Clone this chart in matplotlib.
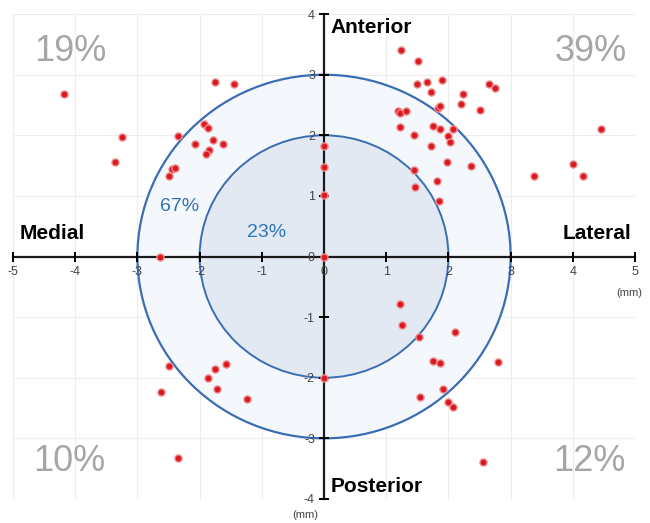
import numpy as np
import matplotlib.pyplot as plt
from matplotlib.patches import Circle

plt.rcParams['font.family'] = ['Liberation Sans', 'DejaVu Sans']
plt.rcParams['axes.unicode_minus'] = False

# 各点位置 (mm)
x_ul = [-4.18, -3.25, -3.36, -2.35, -2.45, -2.40, -2.49, -1.75, -1.44, -1.93, -1.87,
        -2.07, -1.78, -1.63, -1.85, -1.89, -2.63]
y_ul = [2.68, 1.97, 1.56, 1.99, 1.45, 1.46, 1.33, 2.88, 2.85, 2.18, 2.12,
        1.86, 1.93, 1.86, 1.76, 1.69, 0.0]

x_axis = [0, 0, 0, 0, 0]
y_axis = [1.82, 1.48, 1.02, 0.0, -2.0]

x_ur = [1.24, 1.51, 1.49, 1.66, 1.90, 1.72, 2.65, 2.75, 2.23, 2.20, 2.50, 1.19, 1.22,
        1.32, 1.83, 1.87, 1.22, 1.75, 1.86, 2.07, 1.44, 2.00, 2.03, 1.72, 2.37, 1.98,
        1.44, 1.82, 1.47, 1.85, 3.37, 4.00, 4.17, 4.46]
y_ur = [3.40, 3.23, 2.85, 2.88, 2.92, 2.72, 2.85, 2.78, 2.68, 2.52, 2.41, 2.40, 2.37,
        2.40, 2.45, 2.48, 2.13, 2.15, 2.11, 2.10, 2.00, 1.99, 1.89, 1.82, 1.50, 1.56,
        1.42, 1.24, 1.14, 0.92, 1.33, 1.53, 1.33, 2.11]

x_ll = [-2.49, -1.76, -1.57, -1.87, -1.72, -1.24, -2.62, -2.35]
y_ll = [-1.80, -1.85, -1.78, -2.00, -2.19, -2.35, -2.24, -3.33]

x_lr = [1.22, 1.26, 1.52, 2.11, 1.75, 1.86, 2.79, 1.92, 1.54, 1.99, 2.08, 2.56]
y_lr = [-0.79, -1.13, -1.33, -1.25, -1.72, -1.76, -1.74, -2.18, -2.32, -2.40, -2.48, -3.39]

quad_pct = ['19%', '39%', '10%', '12%']
zone_pct = ['67%', '23%']
radii = [3, 2]

fig = plt.figure(figsize=(6.5, 5.23), dpi=100)
ax = fig.add_axes([0.02, 0.046, 0.957, 0.927])
ax.set_xlim(-5, 5)
ax.set_ylim(-4, 4)

# 网格
for g in range(-5, 6):
    ax.plot([g, g], [-4, 4], color='#EDEDED', lw=0.8, zorder=0)
for g in range(-4, 5):
    ax.plot([-5, 5], [g, g], color='#EDEDED', lw=0.8, zorder=0)

# 圆
ax.add_patch(Circle((0, 0), radii[0], facecolor='#F4F7FB', edgecolor='#3A6DB3', lw=1.6, zorder=1))
ax.add_patch(Circle((0, 0), radii[1], facecolor='#E2E9F3', edgecolor='#3A6DB3', lw=1.4, zorder=2))

# 坐标轴居中
ax.spines['left'].set_position(('data', 0))
ax.spines['bottom'].set_position(('data', 0))
ax.spines['right'].set_visible(False)
ax.spines['top'].set_visible(False)
for s in ['left', 'bottom']:
    ax.spines[s].set_linewidth(1.6)
    ax.spines[s].set_color('#1a1a1a')
    ax.spines[s].set_zorder(3)
ax.xaxis.set_zorder(4)
ax.yaxis.set_zorder(4)
ax.set_xticks(range(-5, 6))
ax.set_yticks(range(-4, 5))
ax.tick_params(direction='inout', length=7, width=1.4, labelsize=9, labelcolor='#444444', pad=3)

xs = x_ul + x_axis + x_ur + x_ll + x_lr
ys = y_ul + y_axis + y_ur + y_ll + y_lr
ax.scatter(xs, ys, s=26, color='#DA1A22', edgecolor='#EE8A8A', linewidth=1.0, zorder=5, clip_on=False)

# 文字
ax.text(-4.9, 0.38, 'Medial', fontsize=15, fontweight='bold', ha='left', va='center')
ax.text(4.94, 0.38, 'Lateral', fontsize=15, fontweight='bold', ha='right', va='center')
ax.text(0.11, 3.78, 'Anterior', fontsize=15, fontweight='bold', ha='left', va='center')
ax.text(0.11, -3.8, 'Posterior', fontsize=15, fontweight='bold', ha='left', va='center')

pos = [(-4.07, 3.38), (4.29, 3.38), (-4.1, -3.38), (4.26, -3.38)]
for t, (px, py) in zip(quad_pct, pos):
    ax.text(px, py, t, fontsize=26, color='#A6A6A6', ha='center', va='center')

ax.text(-2.33, 0.83, zone_pct[0], fontsize=14, color='#2E75B6', ha='center', va='center')
ax.text(-0.93, 0.40, zone_pct[1], fontsize=14, color='#2E75B6', ha='center', va='center')

ax.text(4.9, -0.6, '(mm)', fontsize=8, color='#444444', ha='center', va='center')
ax.text(-0.3, -4.27, '(mm)', fontsize=8, color='#444444', ha='center', va='center', clip_on=False)

fig.savefig('out.png', dpi=100)
